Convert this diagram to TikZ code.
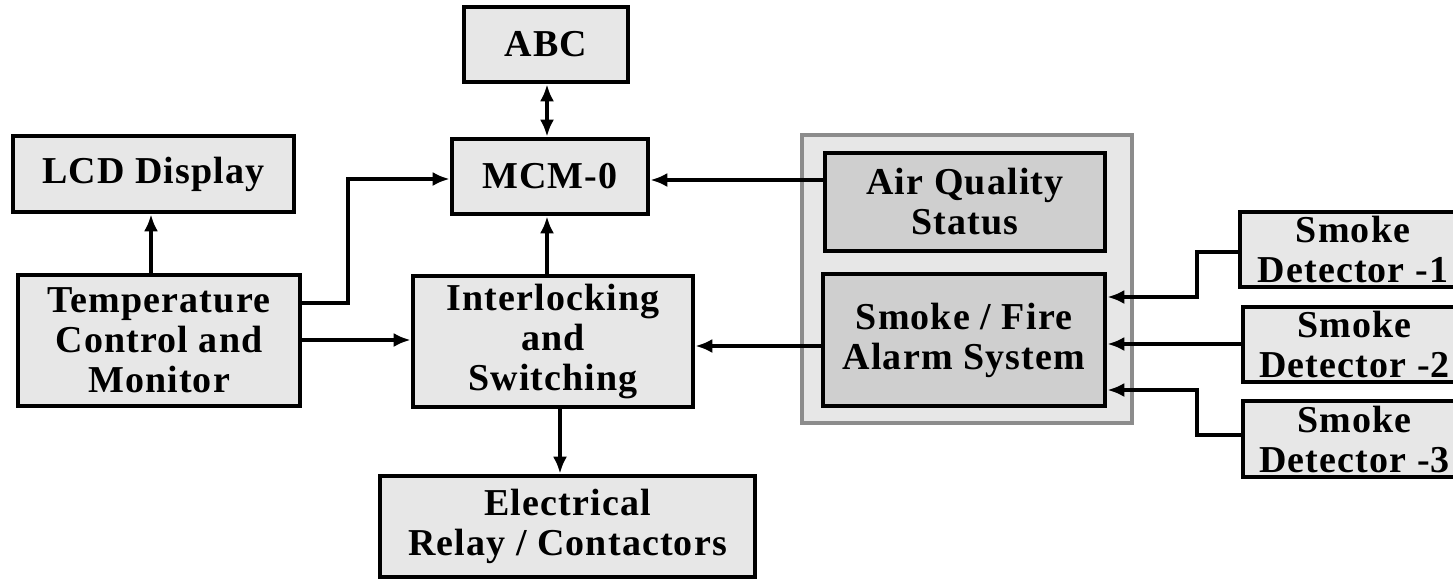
\documentclass[tikz,border=0pt]{standalone}
\usepackage{fontspec}
\setmainfont{Liberation Serif}[LetterSpace=3]
\usetikzlibrary{arrows.meta}
\definecolor{boxfill}{gray}{0.905}
\definecolor{darkfill}{gray}{0.81}
\definecolor{grpline}{gray}{0.55}
\tikzset{
  blk/.style={draw=black, line width=2.3pt, fill=boxfill, align=center, inner sep=0pt,
    font=\fontsize{19}{20}\selectfont\bfseries},
  dblk/.style={blk, fill=darkfill},
  grp/.style={draw=grpline, line width=1.6pt, fill=boxfill, inner sep=0pt},
  tip/.style={Latex[length=8.5pt,width=7pt]},
  arr/.style={line width=2.2pt, -{Latex[length=8.5pt,width=7pt]}},
  darr/.style={line width=2.2pt, {Latex[length=8.5pt,width=7pt]}-{Latex[length=8.5pt,width=7pt]}}
}
\begin{document}
\begin{tikzpicture}[x=0.5pt, y=-0.5pt]
\path[use as bounding box] (0,0) rectangle (1453,579);
\clip (0,0) rectangle (1453,579);
% blocks
\node[blk, minimum width=82pt, minimum height=37.5pt] (abc) at (546,44.5) {ABC};
\node[blk, minimum width=98pt, minimum height=37.5pt] (mcm) at (550,176.5) {MCM-0};
\node[blk, minimum width=140.5pt, minimum height=38pt] (lcd) at (153.5,174) {LCD Display};
\node[blk, minimum width=141pt, minimum height=65.5pt] (temp) at (159,340.5) {Temperature\\Control and\\Monitor};
\node[blk, minimum width=140pt, minimum height=65.5pt] (intl) at (553,341.5) {Interlocking\\and\\Switching};
\node[blk, minimum width=187.5pt, minimum height=50.5pt] (elec) at (567.5,526.5) {Electrical\\Relay / Contactors};
\node[grp, minimum width=165pt, minimum height=144pt] (grp) at (967,279) {};
\node[dblk, minimum width=140pt, minimum height=49pt] (aq) at (965,202) {Air Quality\\Status};
\node[dblk, minimum width=141pt, minimum height=66pt] (sf) at (964,340) {Smoke / Fire\\Alarm System};
\node[blk, minimum width=113pt, minimum height=37.5pt] (sd1) at (1353,249.5) {Smoke\\Detector -1};
\node[blk, minimum width=111.5pt, minimum height=37.5pt] (sd2) at (1354.5,344.5) {Smoke\\Detector -2};
\node[blk, minimum width=111.5pt, minimum height=38pt] (sd3) at (1354.5,439) {Smoke\\Detector -3};
% connectors
\draw[darr] (abc.south -| 547,0) -- (mcm.north -| 547,0);
\draw[arr] (intl.north -| 547,0) -- (mcm.south -| 547,0);
\draw[arr] (intl.south -| 560,0) -- (elec.north -| 560,0);
\draw[arr] (temp.north -| 151,0) -- (lcd.south -| 151,0);
\draw[arr] (temp.east |- 0,303) -| (348,179) -- (mcm.west |- 0,179);
\draw[arr] (temp.east |- 0,340) -- (intl.west |- 0,340);
\draw[arr] (aq.west |- 0,180) -- (mcm.east |- 0,180);
\draw[arr] (sf.west |- 0,346) -- (intl.east |- 0,346);
\draw[arr] (sd1.west |- 0,252) -| (1197,297) -- (sf.east |- 0,297);
\draw[arr] (sd2.west |- 0,344) -- (sf.east |- 0,344);
\draw[arr] (sd3.west |- 0,435) -| (1197,390) -- (sf.east |- 0,390);
\end{tikzpicture}
\end{document}
